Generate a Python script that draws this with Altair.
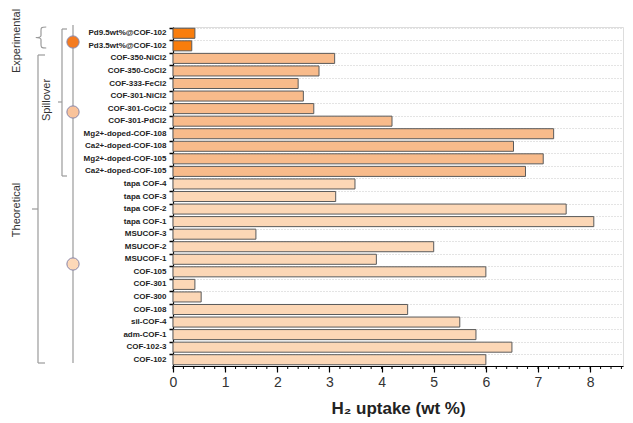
import altair as alt
import pandas as pd

materials = [
    "Pd9.5wt%@COF-102", "Pd3.5wt%@COF-102",
    "COF-350-NiCl2", "COF-350-CoCl2", "COF-333-FeCl2", "COF-301-NiCl2",
    "COF-301-CoCl2", "COF-301-PdCl2", "Mg2+-doped-COF-108", "Ca2+-doped-COF-108",
    "Mg2+-doped-COF-105", "Ca2+-doped-COF-105",
    "tapa COF-4", "tapa COF-3", "tapa COF-2", "tapa COF-1", "MSUCOF-3",
    "MSUCOF-2", "MSUCOF-1", "COF-105", "COF-301", "COF-300", "COF-108",
    "sil-COF-4", "adm-COF-1", "COF-102-3", "COF-102",
]
uptake = [
    0.42, 0.36,
    3.1, 2.8, 2.4, 2.5, 2.7, 4.2, 7.3, 6.53, 7.1, 6.76,
    3.49, 3.12, 7.54, 8.07, 1.59, 5.0, 3.9, 6.0, 0.42, 0.54, 4.5,
    5.5, 5.81, 6.5, 6.0,
]
group = ["Experimental"] * 2 + ["Spillover"] * 10 + ["Theoretical"] * 15

group_names = ["Experimental", "Spillover", "Theoretical"]
group_colors = ["#f97d0c", "#f8bb8b", "#fcd7b6"]

minor_ticks = [round(i * 0.2, 1) for i in range(0, 44)]
major_ticks = [0, 1, 2, 3, 4, 5, 6, 7, 8]

df = pd.DataFrame({"material": materials, "uptake": uptake, "group": group})

W = 450
H = 339
FONT = "Liberation Sans"

xscale = alt.Scale(domain=[0, 8.63], nice=False, zero=True)

bars = alt.Chart(df).mark_bar(stroke="#5a5a5a", strokeWidth=1).encode(
    y=alt.Y(
        "material:N",
        sort=materials,
        scale=alt.Scale(paddingInner=0.2, paddingOuter=0.1),
        axis=alt.Axis(
            title=None,
            labelFont=FONT,
            labelFontSize=8,
            labelFontWeight="bold",
            labelColor="#222",
            labelPadding=3,
            tickSize=4,
            tickColor="#000",
            tickWidth=1.5,
            bandPosition=0,
            domainColor="#000",
            domainWidth=1.2,
            grid=True,
            gridColor="#c8c8c8",
            gridDash=[1, 2],
            gridWidth=1,
        ),
    ),
    x=alt.X(
        "uptake:Q",
        scale=xscale,
        axis=alt.Axis(
            title="H₂ uptake (wt %)",
            titleFont=FONT,
            titleFontSize=17,
            titleFontWeight="bold",
            titleColor="#222",
            titlePadding=11,
            values=major_ticks,
            labelOverlap=False,
            labelFont=FONT,
            labelFontSize=14,
            labelColor="#333",
            labelPadding=3,
            tickSize=6,
            tickWidth=1.2,
            tickColor="#000",
            domainColor="#000",
            domainWidth=1.2,
            grid=False,
            labelFlush=False,
        ),
    ),
    color=alt.Color(
        "group:N",
        scale=alt.Scale(domain=group_names, range=group_colors),
        legend=None,
    ),
)

minor = alt.Chart(pd.DataFrame({"t": minor_ticks})).mark_rule(
    color="#000", strokeWidth=1
).encode(
    x=alt.X("t:Q", scale=xscale, axis=None),
    y=alt.value(H),
    y2=alt.value(H + 3),
)

one = pd.DataFrame({"a": [0]})
GREY = "#9a9a9a"


def vline(x, y1, y2, color=GREY, w=1.2):
    return alt.Chart(one).mark_rule(color=color, strokeWidth=w).encode(
        x=alt.value(x), y=alt.value(y1), y2=alt.value(y2)
    )


def hline(y, x1, x2, color=GREY, w=1.2):
    return alt.Chart(one).mark_rule(color=color, strokeWidth=w).encode(
        y=alt.value(y), x=alt.value(x1), x2=alt.value(x2)
    )


def label(text, x, y):
    return alt.Chart(one).mark_text(
        text=text, angle=270, font=FONT, fontSize=11, color="#333"
    ).encode(x=alt.value(x), y=alt.value(y))


def circle(y, fill):
    return alt.Chart(one).mark_point(
        shape="circle", filled=True, fill=fill, stroke="#8a86a8",
        strokeWidth=1, size=150, opacity=1
    ).encode(x=alt.value(-100), y=alt.value(y))


brace_path = (
    "M 0.5 -1 C -0.05 -1 0 -0.9 0 -0.55 L 0 -0.2 C 0 -0.05 -0.2 0 -0.5 0 "
    "C -0.2 0 0 0.05 0 0.2 L 0 0.55 C 0 0.9 -0.05 1 0.5 1"
)
brace = alt.Chart(one).mark_point(
    shape=brace_path, filled=False, stroke=GREY, strokeWidth=1.2, size=441, opacity=1
).encode(x=alt.value(-132), y=alt.value(10.5))

annotations = [
    vline(-100, -2, 336),
    # spillover bracket
    vline(-111, 2, 149), hline(2, -111, -106), hline(149, -111, -106), hline(75, -115, -111),
    # theoretical bracket
    vline(-135, 28, 336), hline(28, -135, -128), hline(336, -135, -128), hline(182, -141, -135),
    brace,
    circle(15, "#f47b20"), circle(85, "#f9c39b"), circle(237, "#fdd8b8"),
    label("Experimental", -156, 14),
    label("Spillover", -126, 73),
    label("Theoretical", -156, 183),
]

chart = alt.layer(bars, minor, *annotations).resolve_axis(x="independent").properties(
    width=W,
    height=H,
    autosize=alt.AutoSizeParams(type="none"),
    padding={"left": 165, "top": 19, "right": 2, "bottom": 60},
).configure_view(stroke=None).configure(background="white")

chart.save("out.html", embed_options={"renderer": "svg", "actions": False})
